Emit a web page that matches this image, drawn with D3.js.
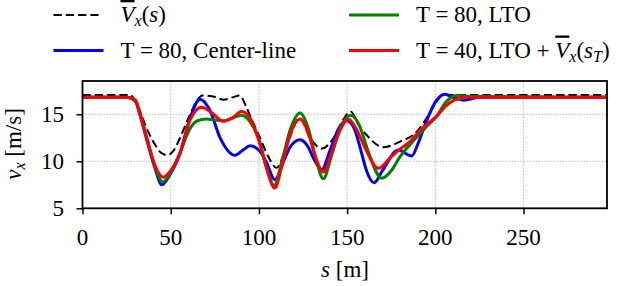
<!DOCTYPE html>
<html><head><meta charset="utf-8"><script src="https://cdn.jsdelivr.net/npm/d3@7"></script></head>
<body style="margin:0">
<svg id="chart" width="632" height="286"></svg>
<script>
// reference speed (dashed)
const refS = [0, 27, 31.6, 36.4, 41, 44.5, 48, 51.5, 55.3, 61, 65, 68, 74, 80, 85, 89, 93, 96, 100.6, 105.3, 110, 116, 123, 129, 135.6, 142, 148, 152, 156.4, 161, 170.5, 180, 189.5, 194, 197, 200.8, 204.5, 297];
const refV = [17.05, 17.05, 15.7, 13.5, 11.8, 10.9, 10.64, 11.1, 12.5, 15.0, 16.5, 17.0, 16.9, 16.55, 16.8, 17.0, 15.7, 14.4, 12.5, 10.5, 9.3, 11.8, 14.6, 12.5, 11.35, 12.4, 14.5, 15.3, 13.9, 12.8, 11.5, 12.1, 13.15, 14.3, 15.2, 16.4, 17.05, 17.05];

// T = 80, center-line (blue)
const clS = [0, 25, 30, 32, 36.4, 41, 45, 50, 55, 61, 66.6, 72, 78, 86.5, 91, 95, 100.6, 104, 109, 114, 118, 123.3, 128, 131, 135.6, 140, 145, 149.8, 154, 158, 161, 165.3, 170, 179, 186.6, 190, 195, 200, 205.5, 210, 216, 225, 297];
const clV = [16.8, 16.8, 16.4, 15.3, 12.3, 9.3, 7.5, 8.7, 10.7, 14.6, 16.6, 15.5, 12.5, 10.64, 11.2, 11.66, 11.06, 10.0, 8.05, 10.0, 11.6, 12.3, 11.5, 10.3, 9.1, 11.0, 13.4, 14.3, 13.5, 11.0, 9.0, 7.72, 9.0, 11.2, 10.56, 11.8, 14.3, 16.3, 17.12, 16.8, 16.5, 16.8, 16.8];

// T = 80, LTO (green)
const ltoS = [0, 25, 30, 32, 36.4, 41, 45.5, 50, 55, 61, 65, 70, 75, 80, 85, 90, 95, 100.6, 104, 108.7, 113, 118, 123.3, 128, 132, 136.5, 141, 146, 152, 157, 162, 169.6, 175, 180, 185.6, 190, 195, 200.8, 206, 212, 220, 297];
const ltoV = [16.8, 16.8, 16.5, 15.4, 12.5, 9.5, 7.8, 8.8, 10.8, 13.5, 14.3, 14.5, 14.4, 14.3, 14.6, 14.9, 14.2, 12.0, 9.5, 7.45, 10.0, 13.5, 15.14, 13.5, 10.5, 8.15, 10.5, 13.5, 14.9, 13.8, 11.0, 8.2, 9.0, 10.5, 11.77, 12.7, 13.7, 14.8, 16.3, 17.0, 16.9, 16.8];

// T = 40, LTO + Vbar(s_T) (red)
const mixS = [0, 25, 30, 32, 36.4, 41, 45.8, 50, 55, 61, 67.5, 73, 80, 85, 90, 95, 100.6, 104, 109, 113, 118, 123.3, 128, 132, 136.5, 141, 146, 150.7, 155, 160, 167.7, 175, 180, 185.6, 190, 195, 200.8, 206, 212, 220, 297];
const mixV = [16.8, 16.8, 16.5, 15.5, 12.5, 9.6, 8.3, 9.0, 10.7, 14.4, 15.75, 15.2, 14.25, 14.6, 15.3, 14.6, 11.8, 9.5, 7.15, 9.5, 13.0, 14.5, 13.0, 10.5, 8.86, 10.8, 13.3, 14.5, 13.5, 11.5, 9.25, 10.5, 11.3, 12.1, 13.0, 13.9, 14.8, 15.9, 16.6, 16.8, 16.8];

const xTicks = [0, 50, 100, 150, 200, 250];
const yTicks = [5, 10, 15];

const FONT = 'Liberation Serif';
const FS = 23;
const mLeft = 82.5, mRight = 607, mTop = 81, mBottom = 208.3;

const svg = d3.select('#chart');

const x = d3.scaleLinear().domain([0, 297.3]).range([mLeft, mRight]);
const y = d3.scaleLinear().domain([5, 18.54]).range([mBottom, mTop]);

// grid
svg.append('g')
    .selectAll('line')
    .data(xTicks)
    .enter().append('line')
        .attr('x1', d => x(d)).attr('x2', d => x(d))
        .attr('y1', mTop).attr('y2', mBottom)
        .attr('stroke', '#b0b0b0')
        .attr('stroke-width', 0.8)
        .attr('stroke-dasharray', '1.5,1.5');
svg.append('g')
    .selectAll('line')
    .data(yTicks)
    .enter().append('line')
        .attr('x1', mLeft).attr('x2', mRight)
        .attr('y1', d => y(d)).attr('y2', d => y(d))
        .attr('stroke', '#b0b0b0')
        .attr('stroke-width', 0.8)
        .attr('stroke-dasharray', '1.5,1.5');

// series
const series = [
    { s: refS, v: refV, color: 'black', w: 2, dash: '8.3,4' },
    { s: clS, v: clV, color: '#0000ff', w: 3, dash: null },
    { s: ltoS, v: ltoV, color: '#008000', w: 3, dash: null },
    { s: mixS, v: mixV, color: '#ff0000', w: 3, dash: null }
];
const line = d3.line()
    .x(d => x(d[0]))
    .y(d => y(d[1]))
    .curve(d3.curveMonotoneX);

const plot = svg.append('g');
series.forEach(sr => {
    plot.append('path')
        .datum(sr.s.map((s, i) => [s, sr.v[i]]))
        .attr('fill', 'none')
        .attr('stroke', sr.color)
        .attr('stroke-width', sr.w)
        .attr('stroke-dasharray', sr.dash)
        .attr('d', line);
});

// axes (tick text written by hand so no sans-serif default is inherited)
const xAxis = d3.axisBottom(x).tickValues(xTicks).tickSize(6).tickFormat('');
const yAxis = d3.axisLeft(y).tickValues(yTicks).tickSize(6).tickFormat('');

const gx = svg.append('g').attr('transform', `translate(0,${mBottom})`).call(xAxis);
const gy = svg.append('g').attr('transform', `translate(${mLeft},0)`).call(yAxis);
[gx, gy].forEach(g => {
    g.attr('font-family', FONT);
    g.select('.domain').remove();
    g.selectAll('.tick line').attr('stroke', 'black').attr('stroke-width', 1.5);
    g.selectAll('.tick text').remove();
});

svg.append('g')
    .selectAll('text')
    .data(xTicks)
    .enter().append('text')
        .attr('x', d => x(d))
        .attr('y', mBottom + 36.7)
        .attr('text-anchor', 'middle')
        .attr('font-family', FONT)
        .attr('font-size', FS)
        .text(d => d);
svg.append('g')
    .selectAll('text')
    .data(yTicks)
    .enter().append('text')
        .attr('x', mLeft - 18.5)
        .attr('y', d => y(d))
        .attr('dy', '0.34em')
        .attr('text-anchor', 'end')
        .attr('font-family', FONT)
        .attr('font-size', FS)
        .text(d => d);

// frame
svg.append('rect')
    .attr('x', mLeft).attr('y', mTop)
    .attr('width', mRight - mLeft).attr('height', mBottom - mTop)
    .attr('fill', 'none')
    .attr('stroke', 'black')
    .attr('stroke-width', 1.8);

// axis labels
const xl = svg.append('text')
    .attr('x', 345).attr('y', 277)
    .attr('text-anchor', 'middle')
    .attr('font-family', FONT)
    .attr('font-size', FS);
xl.append('tspan').attr('font-style', 'italic').text('s');
xl.append('tspan').text(' [m]');

const yl = svg.append('text')
    .attr('transform', 'translate(21,144) rotate(-90)')
    .attr('text-anchor', 'middle')
    .attr('font-family', FONT)
    .attr('font-size', FS);
yl.append('tspan').attr('font-style', 'italic').text('v');
yl.append('tspan').attr('font-style', 'italic').attr('font-size', 16).attr('dy', 4).text('x');
yl.append('tspan').attr('dy', -4).text(' [m/s]');

// legend
const legend = [
    { col: 0, row: 0, color: 'black', dash: '8.3,4', w: 2, len: 45, plain: '', sub: null },
    { col: 0, row: 1, color: '#0000ff', dash: null, w: 3, len: 50, plain: 'T = 80, Center-line', sub: undefined },
    { col: 1, row: 0, color: '#008000', dash: null, w: 3, len: 50, plain: 'T = 80, LTO', sub: undefined },
    { col: 1, row: 1, color: '#ff0000', dash: null, w: 3, len: 50, plain: 'T = 40, LTO + ', sub: 'T' }
];
const colX = [53.5, 349], rowY = [15, 50.5];
const lg = svg.append('g');
legend.forEach(d => {
    const lx = colX[d.col], ly = rowY[d.row];
    lg.append('line')
        .attr('x1', lx).attr('x2', lx + d.len)
        .attr('y1', ly).attr('y2', ly)
        .attr('stroke', d.color)
        .attr('stroke-width', d.w)
        .attr('stroke-dasharray', d.dash);
    const t = lg.append('text')
        .attr('x', lx + 67)
        .attr('y', ly + 7)
        .attr('font-family', FONT)
        .attr('font-size', FS);
    if (d.plain) t.append('tspan').text(d.plain);
    if (d.sub !== undefined) {
        // V-bar_x(s) or V-bar_x(s_T)
        t.append('tspan').attr('font-style', 'italic').attr('text-decoration', 'overline').text('V');
        t.append('tspan').attr('font-style', 'italic').attr('font-size', 16).attr('dy', 4).text('x');
        t.append('tspan').attr('dy', -4).text('(');
        t.append('tspan').attr('font-style', 'italic').text('s');
        if (d.sub) {
            t.append('tspan').attr('font-style', 'italic').attr('font-size', 16).attr('dy', 4).text(d.sub);
            t.append('tspan').attr('dy', -4).text(')');
        } else {
            t.append('tspan').text(')');
        }
    }
});
</script>
</body></html>
